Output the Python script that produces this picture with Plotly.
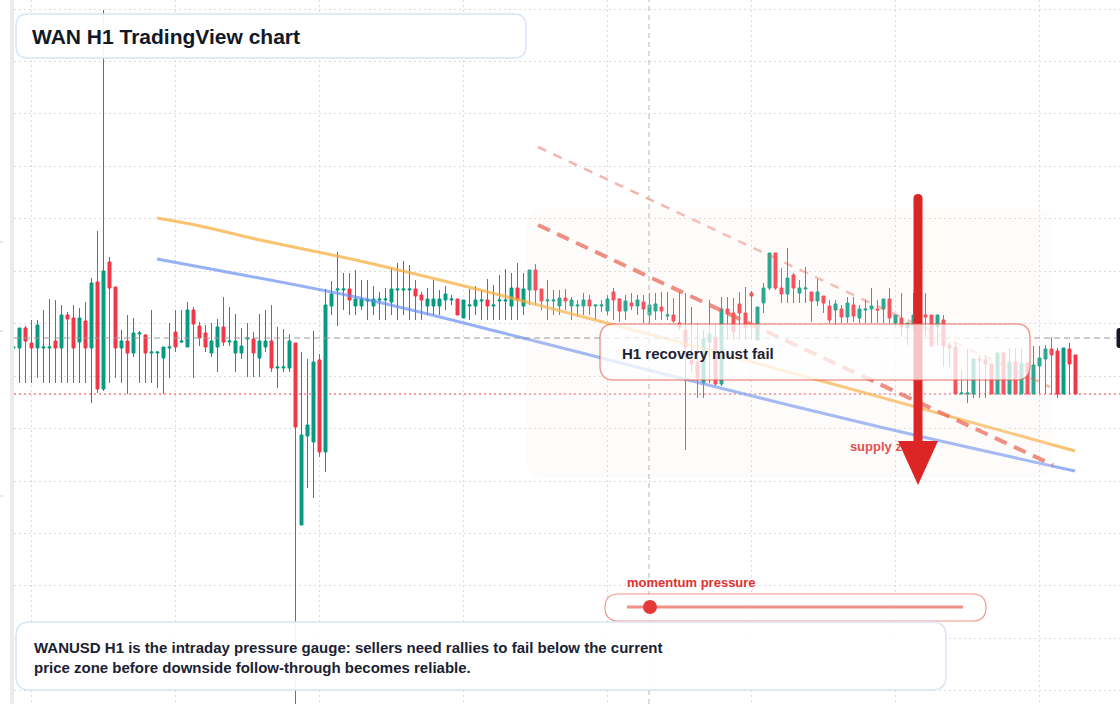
import pandas as pd
import plotly.graph_objects as go

W, H = 1120, 704

# ---------------- data (WANUSD, 1h candles) ----------------
start = pd.Timestamp("2025-03-09 21:00")

open_ = [0.10028,
 0.10028,0.10048,0.10033,0.10028,0.10028,0.10028,0.10035,0.10028,0.10061,0.10058,
 0.10034,0.10055,0.10028,0.10094,0.09987,0.10114,0.10089,0.10028,0.10035,0.10023,
 0.10042,0.10041,0.10023,0.10023,0.10018,0.10028,0.10044,0.10034,0.10029,0.10066,
 0.10050,0.10043,0.10023,0.10029,0.10049,0.10034,0.10023,0.10023,0.10037,0.10037,
 0.10018,0.10029,0.10035,0.10008,0.10008,0.10008,0.10033,0.09851,0.09940,0.09934,
 0.10016,0.09924,0.10070,0.10086,0.10086,0.10087,0.10070,0.10070,0.10075,0.10070,
 0.10076,0.10076,0.10074,0.10086,0.10086,0.10086,0.10087,0.10081,0.10070,0.10070,
 0.10070,0.10076,0.10076,0.10077,0.10058,0.10070,0.10070,0.10075,0.10076,0.10070,
 0.10075,0.10075,0.10070,0.10088,0.10070,0.10086,0.10106,0.10087,0.10075,0.10075,
 0.10070,0.10078,0.10070,0.10070,0.10070,0.10076,0.10070,0.10070,0.10065,0.10084,
 0.10077,0.10065,0.10073,0.10070,0.10074,0.10061,0.10065,0.10069,0.10060,0.10061,
 0.10053,0.10046,0.10016,0.10014,0.09993,0.10034,0.10039,0.09992,0.10067,0.10063,
 0.10072,0.10063,0.10083,0.10036,0.10073,0.10088,0.10123,0.10088,0.10082,0.10101,
 0.10083,0.10087,0.10084,0.10075,0.10080,0.10070,0.10066,0.10067,0.10059,0.10071,
 0.10058,0.10066,0.10067,0.10067,0.10067,0.10077,0.10053,0.10058,0.10048,0.10051,
 0.10053,0.10061,0.10061,0.10049,0.10056,0.10031,0.10029,0.09982,0.09982,0.09982,
 0.10017,0.10016,0.10012,0.09982,0.10023,0.09982,0.10014,0.09982,0.10013,0.09982,
 0.10010,0.10017,0.10027,0.10025,0.09982,0.10027,0.10021]

high = [0.10029,
 0.10048,0.10050,0.10056,0.10056,0.10066,0.10077,0.10076,0.10071,0.10064,0.10071,
 0.10068,0.10074,0.10098,0.10145,0.10366,0.10119,0.10089,0.10046,0.10061,0.10058,
 0.10045,0.10042,0.10066,0.10024,0.10029,0.10053,0.10066,0.10066,0.10074,0.10069,
 0.10054,0.10051,0.10053,0.10057,0.10079,0.10069,0.10062,0.10048,0.10053,0.10044,
 0.10062,0.10066,0.10071,0.10049,0.10047,0.10042,0.10033,0.10024,0.10017,0.10045,
 0.10022,0.10087,0.10095,0.10124,0.10103,0.10103,0.10106,0.10096,0.10096,0.10090,
 0.10084,0.10088,0.10108,0.10113,0.10115,0.10111,0.10096,0.10084,0.10088,0.10096,
 0.10086,0.10090,0.10081,0.10077,0.10076,0.10087,0.10090,0.10086,0.10097,0.10091,
 0.10101,0.10107,0.10103,0.10113,0.10103,0.10106,0.10112,0.10087,0.10096,0.10086,
 0.10086,0.10087,0.10079,0.10076,0.10083,0.10081,0.10071,0.10076,0.10081,0.10088,
 0.10078,0.10081,0.10083,0.10081,0.10081,0.10083,0.10083,0.10084,0.10084,0.10078,
 0.10084,0.10083,0.10069,0.10053,0.10046,0.10076,0.10051,0.10079,0.10079,0.10078,
 0.10084,0.10089,0.10085,0.10069,0.10093,0.10123,0.10123,0.10108,0.10128,0.10103,
 0.10096,0.10109,0.10084,0.10097,0.10080,0.10076,0.10076,0.10071,0.10079,0.10079,
 0.10071,0.10076,0.10088,0.10076,0.10077,0.10088,0.10061,0.10083,0.10053,0.10083,
 0.10083,0.10083,0.10061,0.10061,0.10061,0.10034,0.10034,0.10006,0.10027,0.10017,
 0.10021,0.10021,0.10012,0.10023,0.10023,0.10028,0.10028,0.10028,0.10013,0.10030,
 0.10030,0.10031,0.10039,0.10028,0.10028,0.10033,0.10021]

low = [0.10028,
 0.09993,0.09993,0.09993,0.09998,0.09993,0.09993,0.09993,0.09993,0.09993,0.09993,
 0.09993,0.09993,0.09973,0.09983,0.09985,0.09993,0.09998,0.09993,0.09982,0.10019,
 0.09993,0.09993,0.09993,0.09988,0.09982,0.09998,0.10024,0.10033,0.10029,0.09998,
 0.10030,0.10024,0.10019,0.10004,0.10030,0.10030,0.10004,0.10017,0.09999,0.09999,
 0.09999,0.10024,0.10004,0.09988,0.10004,0.10004,0.09666,0.09851,0.09888,0.09878,
 0.09919,0.09904,0.10061,0.10050,0.10066,0.10061,0.10061,0.10066,0.10056,0.10061,
 0.10056,0.10056,0.10061,0.10056,0.10061,0.10056,0.10056,0.10056,0.10061,0.10061,
 0.10061,0.10066,0.10071,0.10061,0.10058,0.10056,0.10061,0.10056,0.10056,0.10056,
 0.10056,0.10056,0.10056,0.10056,0.10061,0.10071,0.10071,0.10066,0.10056,0.10061,
 0.10061,0.10066,0.10056,0.10059,0.10061,0.10061,0.10056,0.10064,0.10061,0.10056,
 0.10054,0.10056,0.10066,0.10061,0.10053,0.10053,0.10056,0.10056,0.10056,0.10053,
 0.10046,0.09926,0.10004,0.09978,0.09978,0.09993,0.09990,0.09990,0.10036,0.10036,
 0.10036,0.10036,0.10036,0.10036,0.10063,0.10086,0.10086,0.10073,0.10073,0.10073,
 0.10073,0.10073,0.10054,0.10070,0.10063,0.10053,0.10051,0.10053,0.10053,0.10054,
 0.10053,0.10053,0.10053,0.10053,0.10053,0.10053,0.10048,0.10039,0.10031,0.10046,
 0.10041,0.10039,0.10029,0.10030,0.10009,0.10009,0.09982,0.09982,0.09973,0.09978,
 0.09978,0.09978,0.09982,0.09982,0.09982,0.09982,0.09982,0.09982,0.09982,0.09982,
 0.09982,0.09982,0.09981,0.09978,0.09982,0.09982,0.09982]

close = [0.10029,
 0.10048,0.10035,0.10028,0.10051,0.10029,0.10029,0.10028,0.10061,0.10057,0.10028,
 0.10058,0.10028,0.10093,0.09987,0.10105,0.10088,0.10028,0.10035,0.10023,0.10043,
 0.10043,0.10023,0.10024,0.10024,0.10029,0.10029,0.10029,0.10035,0.10066,0.10052,
 0.10038,0.10029,0.10035,0.10049,0.10034,0.10035,0.10035,0.10030,0.10038,0.10023,
 0.10035,0.10035,0.10008,0.10009,0.10009,0.10035,0.09949,0.09941,0.09951,0.10014,
 0.09924,0.10071,0.10082,0.10087,0.10087,0.10076,0.10077,0.10077,0.10076,0.10077,
 0.10077,0.10077,0.10087,0.10087,0.10087,0.10087,0.10080,0.10076,0.10077,0.10077,
 0.10077,0.10082,0.10077,0.10061,0.10076,0.10071,0.10076,0.10076,0.10070,0.10071,
 0.10076,0.10076,0.10088,0.10076,0.10087,0.10106,0.10086,0.10075,0.10076,0.10076,
 0.10078,0.10075,0.10076,0.10071,0.10076,0.10070,0.10071,0.10071,0.10077,0.10076,
 0.10065,0.10075,0.10070,0.10076,0.10067,0.10071,0.10072,0.10065,0.10061,0.10055,
 0.10049,0.10029,0.10012,0.09998,0.10037,0.10042,0.09992,0.10067,0.10062,0.10044,
 0.10063,0.10049,0.10080,0.10069,0.10088,0.10123,0.10088,0.10082,0.10098,0.10088,
 0.10088,0.10088,0.10075,0.10084,0.10073,0.10056,0.10072,0.10059,0.10073,0.10060,
 0.10067,0.10067,0.10070,0.10066,0.10077,0.10058,0.10061,0.10049,0.10053,0.10061,
 0.10061,0.10059,0.10030,0.10061,0.10030,0.10028,0.09982,0.09983,0.09983,0.10017,
 0.10016,0.10012,0.09982,0.10023,0.09982,0.10014,0.09982,0.10013,0.09982,0.10011,
 0.10018,0.10027,0.10021,0.09982,0.10028,0.10012,0.09982]

# overlays: (hours from start, price)
orange_h = [23.92, 31.08, 41.08, 57.75, 81.08, 107.75, 137.75, 176.92]
orange_p = [0.10158, 0.10150, 0.10136, 0.10115, 0.10081, 0.10039, 0.09990, 0.09925]
blue_h = [23.92, 31.08, 57.75, 84.92, 107.75, 144.42, 176.92]
blue_p = [0.10117, 0.10109, 0.10078, 0.10038, 0.10003, 0.09949, 0.09905]
resist_h = [87.42, 173.25]
resist_p = [0.10151, 0.09911]
upper_h = [87.42, 172.75]
upper_p = [0.10229, 0.09989]

last_price = 0.09982
cross_price = 0.10038

times = pd.date_range(start, periods=len(open_), freq="h")
hrs = lambda hs: [start + pd.Timedelta(hours=h) for h in hs]

# pixel helpers for decorations (paper coordinates)
def px(x):
    return x / W

def py(y):
    return 1 - y / H

def rrect(x0, y0, x1, y1, r):
    rx, ry = r / W, r / H
    X0, X1, Y0, Y1 = px(x0), px(x1), py(y0), py(y1)
    return (f"M {X0+rx},{Y0} L {X1-rx},{Y0} Q {X1},{Y0} {X1},{Y0-ry} "
            f"L {X1},{Y1+ry} Q {X1},{Y1} {X1-rx},{Y1} L {X0+rx},{Y1} "
            f"Q {X0},{Y1} {X0},{Y1+ry} L {X0},{Y0-ry} Q {X0},{Y0} {X0+rx},{Y0} Z")

FONT = "Liberation Sans, Arial, sans-serif"
GREEN, RED = "#089981", "#f23645"

fig = go.Figure()

fig.add_trace(go.Candlestick(
    x=times, open=open_, high=high, low=low, close=close,
    increasing=dict(line=dict(color=GREEN, width=1), fillcolor=GREEN),
    decreasing=dict(line=dict(color=RED, width=1), fillcolor=RED),
    whiskerwidth=0, showlegend=False, hoverinfo="skip"))

fig.add_trace(go.Scatter(x=hrs(orange_h), y=orange_p, mode="lines",
                         line=dict(color="rgba(247,172,58,0.72)", width=3, shape="spline"),
                         showlegend=False, hoverinfo="skip"))
fig.add_trace(go.Scatter(x=hrs(blue_h), y=blue_p, mode="lines",
                         line=dict(color="rgba(100,140,240,0.68)", width=3, shape="spline"),
                         showlegend=False, hoverinfo="skip"))
fig.add_trace(go.Scatter(x=hrs(upper_h), y=upper_p, mode="lines",
                         line=dict(color="rgba(231,76,60,0.42)", width=2.5, dash="9px,8px"),
                         showlegend=False, hoverinfo="skip"))
fig.add_trace(go.Scatter(x=hrs(resist_h), y=resist_p, mode="lines",
                         line=dict(color="rgba(231,76,60,0.72)", width=4, dash="13px,8px"),
                         showlegend=False, hoverinfo="skip"))
fig.add_trace(go.Scatter(x=hrs([139.4]), y=[0.09928], mode="text", text=["<b>supply zone</b>"],
                         textposition="middle right",
                         textfont=dict(family=FONT, size=13, color="#e03131"),
                         showlegend=False, hoverinfo="skip"))

shapes = []
# left axis strip and tick marks
shapes.append(dict(type="rect", xref="paper", yref="paper", x0=px(10), x1=px(14), y0=0, y1=1,
                   fillcolor="#ebebeb", line=dict(width=0), layer="below"))
for yy in (242, 331, 496):
    shapes.append(dict(type="line", xref="paper", yref="paper", x0=0, x1=px(3), y0=py(yy), y1=py(yy),
                       line=dict(color="#cfcfcf", width=1), layer="below"))
# last price dotted line
shapes.append(dict(type="line", xref="paper", yref="y", x0=px(14), x1=1, y0=last_price, y1=last_price,
                   line=dict(color=RED, width=1, dash="2px,3px"), layer="below"))
# supply zone
shapes.append(dict(type="path", xref="paper", yref="paper", path=rrect(527, 208, 1052, 478, 16),
                   fillcolor="rgba(250,238,230,0.16)", line=dict(width=0), layer="above"))
# crosshair
shapes.append(dict(type="line", xref="paper", yref="y", x0=px(14), x1=px(1116), y0=cross_price, y1=cross_price,
                   line=dict(color="#9a9a9a", width=1, dash="6px,4px"), layer="above"))
shapes.append(dict(type="line", xref="paper", yref="paper", x0=px(649), x1=px(649), y0=0, y1=1,
                   line=dict(color="#b5b5b5", width=1, dash="5px,4px"), layer="above"))
# big arrow
sx0, sx1, top = 913.5, 922.5, 194
shapes.append(dict(type="path", xref="paper", yref="paper",
                   path=(f"M {px(sx0)},{py(443)} L {px(sx0)},{py(top+4.5)} "
                         f"Q {px(sx0)},{py(top)} {px(918)},{py(top)} Q {px(sx1)},{py(top)} {px(sx1)},{py(top+4.5)} "
                         f"L {px(sx1)},{py(443)} Z"),
                   fillcolor="#dc2626", line=dict(width=0), layer="above"))
shapes.append(dict(type="path", xref="paper", yref="paper",
                   path=f"M {px(898)},{py(441)} L {px(938)},{py(441)} L {px(918)},{py(485)} Z",
                   fillcolor="#dc2626", line=dict(width=0), layer="above"))
# label box
shapes.append(dict(type="path", xref="paper", yref="paper", path=rrect(600, 324, 1030, 380, 14),
                   fillcolor="rgba(255,255,255,0.74)", line=dict(color="rgba(231,76,60,0.55)", width=1.5),
                   layer="above"))
# momentum slider
shapes.append(dict(type="path", xref="paper", yref="paper", path=rrect(605, 594, 986, 621, 13.5),
                   fillcolor="rgba(255,255,255,0.95)", line=dict(color="rgba(231,76,60,0.6)", width=1.2),
                   layer="above"))
shapes.append(dict(type="line", xref="paper", yref="paper", x0=px(627), x1=px(963), y0=py(607), y1=py(607),
                   line=dict(color="rgba(231,76,60,0.62)", width=3), layer="above"))
shapes.append(dict(type="circle", xref="paper", yref="paper", x0=px(643), x1=px(657), y0=py(614), y1=py(600),
                   fillcolor="#e53935", line=dict(width=0), layer="above"))
# bottom note box and title box
shapes.append(dict(type="path", xref="paper", yref="paper", path=rrect(16, 622, 946, 690, 14),
                   fillcolor="rgba(255,255,255,0.93)", line=dict(color="#d9e4f8", width=1.5), layer="above"))
shapes.append(dict(type="path", xref="paper", yref="paper", path=rrect(16, 14, 526, 58, 12),
                   fillcolor="rgba(255,255,255,0.93)", line=dict(color="#d9e4f8", width=1.5), layer="above"))
# cropped price label at right edge
shapes.append(dict(type="path", xref="paper", yref="paper", path=rrect(1116.5, 328, 1134, 348, 3),
                   fillcolor="#131722", line=dict(width=0), layer="above"))

annotations = [
    dict(text="<b>WAN H1 TradingView chart</b>", x=px(30), y=py(36), xref="paper", yref="paper",
         xanchor="left", yanchor="middle", showarrow=False,
         font=dict(family=FONT, size=21, color="#111827")),
    dict(text="<b>H1 recovery must fail</b>", x=px(620), y=py(353), xref="paper", yref="paper",
         xanchor="left", yanchor="middle", showarrow=False,
         font=dict(family=FONT, size=15, color="#1a2233")),
    dict(text="<b>momentum pressure</b>", x=px(625), y=py(582), xref="paper", yref="paper",
         xanchor="left", yanchor="middle", showarrow=False,
         font=dict(family=FONT, size=13, color="#e03131")),
    dict(text=("<b>WANUSD H1 is the intraday pressure gauge: sellers need rallies to fail below the current"
               "<br>price zone before downside follow-through becomes reliable.</b>"),
         x=px(32), y=py(657), xref="paper", yref="paper", align="left",
         xanchor="left", yanchor="middle", showarrow=False,
         font=dict(family=FONT, size=15, color="#1a2233")),
]

# axes ranges: 6 px per hourly candle, first candle centre at x=13.5 px
x_lo = start + pd.Timedelta(hours=(14 - 13.5) / 6)
x_hi = start + pd.Timedelta(hours=(1120 - 13.5) / 6)

GRID = "#dadada"
fig.update_layout(
    width=W, height=H, margin=dict(l=0, r=0, t=0, b=0),
    paper_bgcolor="white", plot_bgcolor="white",
    shapes=shapes, annotations=annotations, hovermode=False,
    xaxis=dict(domain=[px(14), 1], range=[x_lo, x_hi], type="date",
               rangeslider=dict(visible=False), showticklabels=False,
               showgrid=True, gridcolor=GRID, griddash="2px,3px", gridwidth=1,
               tick0="2025-03-10 00:00", dtick=86400000, zeroline=False, showline=False, ticks=""),
    yaxis=dict(range=[0.09672, 0.10376], showticklabels=False,
               showgrid=True, gridcolor=GRID, griddash="2px,3px", gridwidth=1,
               tick0=0.10367, dtick=0.0005245, zeroline=False, showline=False, ticks=""),
)

fig.write_html("out.html")
